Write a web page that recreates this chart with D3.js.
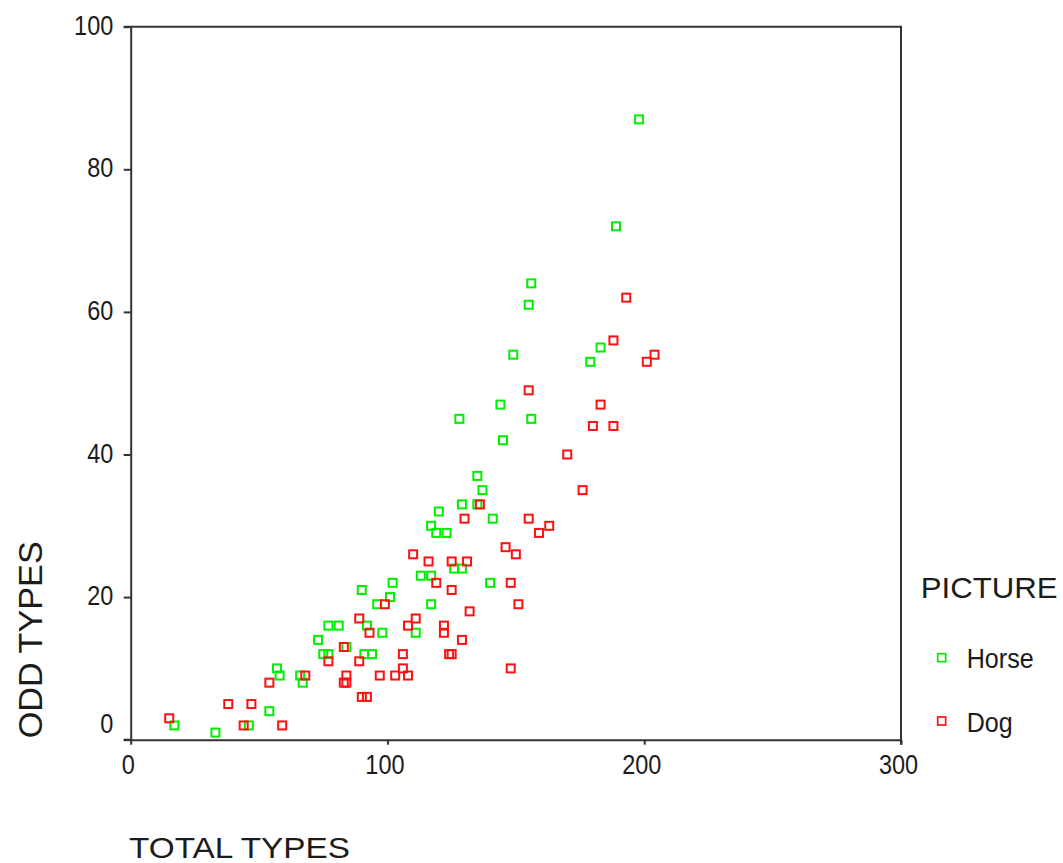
<!DOCTYPE html>
<html>
<head>
<meta charset="utf-8">
<script src="https://cdn.jsdelivr.net/npm/d3@7"></script>
<style>
  html, body { margin: 0; padding: 0; background: #fff; }
  svg { display: block; }
  text { font-family: "Liberation Sans", Arial, sans-serif; fill: #1c1c1c; }
</style>
</head>
<body>
<svg id="chart" width="1063" height="863"></svg>
<script>
// Picture groups and their marker colours
const groups = ["Horse", "Dog"];
const groupColors = ["#00ee00", "#ff1010"];

// Horse: [total types, odd types]
const horseTotal = [17, 33, 46, 54, 57, 58, 66, 67, 73, 75, 77, 77, 81, 84, 90, 91, 94, 92, 96, 98,
  101, 102, 111, 113, 117, 117, 117, 119, 123, 120, 126, 129, 128, 129, 135, 135, 137, 140, 141,
  144, 145, 149, 155, 156, 156, 179, 183, 189, 198];
const horseOdd = [2, 1, 2, 4, 10, 9, 9, 8, 14, 12, 12, 16, 16, 13, 21, 12, 12, 16, 19, 15,
  20, 22, 15, 23, 23, 19, 30, 29, 29, 32, 24, 24, 45, 33, 33, 37, 35, 22, 31,
  47, 42, 54, 61, 64, 45, 53, 55, 72, 87];

// Dog: [total types, odd types]
const dogTotal = [15, 38, 44, 47, 54, 59, 68, 77, 83, 83, 84, 84, 89, 89, 90, 92, 93, 97, 99, 103,
  106, 106, 108, 108, 110, 111, 116, 119, 122, 122, 124, 125, 125, 125, 129, 130, 131, 132, 136,
  146, 148, 148, 150, 151, 155, 155, 159, 163, 170, 176, 180, 183, 188, 188, 193, 201, 204];
const dogOdd = [3, 5, 2, 5, 8, 2, 9, 11, 13, 8, 8, 9, 17, 11, 6, 6, 15, 9, 19, 9,
  12, 10, 16, 9, 26, 17, 25, 22, 16, 15, 12, 12, 25, 21, 14, 31, 25, 18, 33,
  27, 22, 10, 26, 19, 31, 49, 29, 30, 40, 35, 44, 47, 44, 56, 62, 53, 54];

// Axis ticks
const xTicks = [0, 100, 200, 300];
const yTicks = [0, 20, 40, 60, 80, 100];

const xTitle = "TOTAL TYPES";
const yTitle = "ODD TYPES";
const legendTitle = "PICTURE";

const svg = d3.select("#chart");
svg.append("rect").attr("width", 1063).attr("height", 863).attr("fill", "#fff");

const plotLeft = 130.7, plotRight = 901, plotTop = 26.7, plotBottom = 739.7;
const x = d3.scaleLinear().domain([0, 300]).range([plotLeft, plotRight]);
const y = d3.scaleLinear().domain([0, 100]).range([plotBottom, plotTop]);

// narrow the glyphs of a text selection horizontally
function squeeze(sel, k) {
  sel.each(function () {
    const w = this.getComputedTextLength();
    this.setAttribute("textLength", (w * k).toFixed(1));
    this.setAttribute("lengthAdjust", "spacingAndGlyphs");
  });
}
function fitWidth(sel, w) {
  sel.attr("textLength", w).attr("lengthAdjust", "spacingAndGlyphs");
}

const axisColor = "#333";

// frame: top and right edges
svg.append("path")
  .attr("d", `M${plotLeft - 7},${plotTop}H${plotRight}V${plotBottom + 5}`)
  .attr("fill", "none").attr("stroke", axisColor).attr("stroke-width", 2);

// y axis
const gy = svg.append("g")
  .attr("transform", `translate(${plotLeft},0)`)
  .call(d3.axisLeft(y).tickValues(yTicks).tickSize(7).tickSizeOuter(0).tickPadding(10.4));
gy.attr("font-family", null).attr("font-size", null);
gy.selectAll("text")
  .attr("font-size", 27).attr("dy", "0.28em")
  .attr("transform", d => d === 0 ? "translate(0,-14.5)" : null);
squeeze(gy.selectAll("text"), 0.87);

// x axis
const gx = svg.append("g")
  .attr("transform", `translate(0,${plotBottom})`)
  .call(d3.axisBottom(x).tickValues(xTicks).tickSize(5).tickSizeOuter(0).tickPadding(10.3));
gx.attr("font-family", null).attr("font-size", null);
gx.selectAll("text").attr("font-size", 27).attr("x", -3);
squeeze(gx.selectAll("text"), 0.87);

[gx, gy].forEach(g => {
  g.select(".domain").attr("stroke", axisColor).attr("stroke-width", 2);
  g.selectAll(".tick line").attr("stroke", axisColor).attr("stroke-width", 2);
  g.selectAll(".tick text").attr("fill", "#1c1c1c");
});
// extend the x axis line to the left tick of y = 0
svg.append("line")
  .attr("x1", plotLeft - 7).attr("x2", plotLeft).attr("y1", plotBottom).attr("y2", plotBottom)
  .attr("stroke", axisColor).attr("stroke-width", 2);

// points
const series = [
  { name: groups[0], color: groupColors[0], tx: horseTotal, oy: horseOdd },
  { name: groups[1], color: groupColors[1], tx: dogTotal, oy: dogOdd }
];
const m = 8;
series.forEach(s => {
  const pts = s.tx.map((v, i) => [v, s.oy[i]]);
  svg.append("g").selectAll("rect").data(pts).join("rect")
    .attr("x", d => x(d[0]) - m / 2)
    .attr("y", d => y(d[1]) - m / 2)
    .attr("width", m).attr("height", m)
    .attr("fill", "none")
    .attr("stroke", s.color)
    .attr("stroke-width", 2);
});

// axis titles
svg.append("text")
  .attr("x", 129).attr("y", 858)
  .attr("font-size", 30)
  .text(xTitle)
  .call(fitWidth, 221);

svg.append("text")
  .attr("transform", "translate(42,738.3) rotate(-90)")
  .attr("font-size", 33)
  .text(yTitle)
  .call(fitWidth, 197);

// legend
svg.append("text")
  .attr("x", 920.7).attr("y", 598.3)
  .attr("font-size", 30)
  .text(legendTitle)
  .call(fitWidth, 137);

const legendRows = [657.7, 721];
const legendWidths = [67, 46];
series.forEach((s, i) => {
  svg.append("rect")
    .attr("x", 941.7 - 4).attr("y", legendRows[i] - 4)
    .attr("width", 8).attr("height", 8)
    .attr("fill", "none").attr("stroke", s.color).attr("stroke-width", 1.7);
  svg.append("text")
    .attr("x", 966.7).attr("y", legendRows[i] + 10.5)
    .attr("font-size", 28)
    .text(s.name)
    .call(fitWidth, legendWidths[i]);
});
</script>
</body>
</html>
